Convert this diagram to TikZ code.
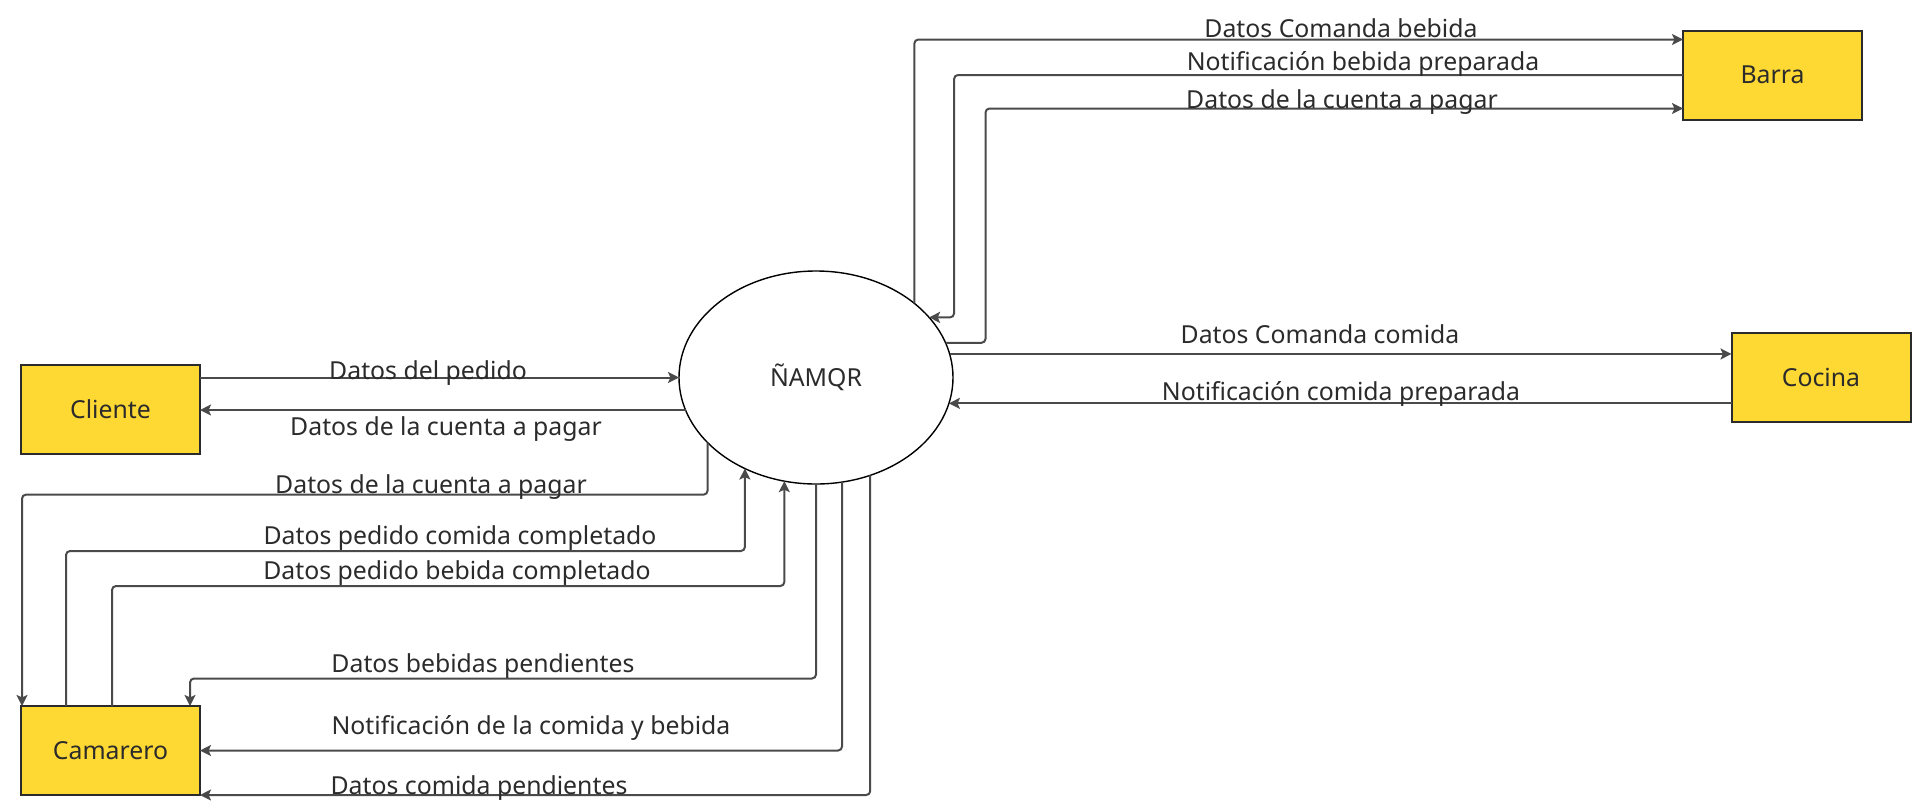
\documentclass[tikz,border=0pt]{standalone}
\usepackage{fontspec}
\setmainfont{Noto Sans}
\usetikzlibrary{arrows.meta,shapes.geometric}
\definecolor{boxyellow}{HTML}{FFD933}
\definecolor{linegray}{HTML}{4A4A4A}
\definecolor{txtgray}{HTML}{2B2B2B}
\tikzset{
  entity/.style={draw=txtgray,line width=1pt,fill=boxyellow,
    minimum width=89.5pt,minimum height=44.5pt,inner sep=0pt,outer sep=0pt,
    font=\fontsize{12.4}{14}\selectfont,text=txtgray},
  process/.style={ellipse,draw=black,line width=0.7pt,fill=white,
    minimum width=137pt,minimum height=106.5pt,inner sep=0pt,outer sep=0pt,
    font=\fontsize{12.4}{14}\selectfont,text=txtgray},
  flow/.style={draw=linegray,line width=1pt,rounded corners=2pt,
    -{Stealth[length=5.5pt,width=5.5pt,inset=1.2pt]}},
  lbl/.style={font=\fontsize{12.4}{14}\selectfont,text=txtgray,inner sep=0pt}
}
\begin{document}
\begin{tikzpicture}[x=0.5pt,y=-0.5pt]
\useasboundingbox (0,0) rectangle (1927,810);
% external entities and process
\node[entity] (cli) at (110.5,409.5) {Cliente};
\node[entity] (cam) at (110.5,750.5) {Camarero};
\node[entity] (barra) at (1772.5,75) {Barra};
\node[entity] (cocina) at (1821,377.5) {Cocina};
\node[process] (nam) at (816,377.5) {ÑAMQR};

% Cliente
\draw[flow] (cli.east |- nam.west) -- (nam.west);
\draw[flow] (nam.194) -- (nam.194 -| cli.east);

% Camarero
\draw[flow] (nam.211.3) -- ++(0,52) -| ([xshift=0.5pt]cam.north west);
\draw[flow] ([xshift=22.5pt]cam.north west) -- ++(0,-155) -| (nam.232.6);
\draw[flow] ([xshift=45.5pt]cam.north west) -- ++(0,-120) -| (nam.253.9);
\draw[flow] (nam.south) -- ++(0,194.5) -| ([xshift=-5pt]cam.north east);
\draw[flow] (nam.-76) |- (cam.east);
\draw[flow] (nam.-61.6) |- (cam.south east);

% Barra
\draw[flow] (nam.37.8) |- ([yshift=-4.5pt]barra.north west);
\draw[flow] (barra.west) -| ([xshift=12.5pt]nam.28.8) -- (nam.28.8);
\draw[flow] (nam.15.8) -- ++(40,0) |- ([yshift=5.5pt]barra.south west);

% Cocina
\draw[flow] (nam.10.85) -- (nam.10.85 -| cocina.west);
\draw[flow] (nam.-11.3 -| cocina.west) -- (nam.-11.3);

% labels
\node[lbl] (l1) at (428,373) {Datos del pedido};
\node[lbl] (l2) at (446,429) {Datos de la cuenta a pagar};
\node[lbl] (l3) at (431,487) {Datos de la cuenta a pagar};
\node[lbl] (l4) at (460,538) {Datos pedido comida completado};
\node[lbl] (l5) at (457,573) {Datos pedido bebida completado};
\node[lbl] (l6) at (483,666) {Datos bebidas pendientes};
\node[lbl] (l7) at (531,728) {Notificación de la comida y bebida};
\node[lbl] (l8) at (479,788) {Datos comida pendientes};
\node[lbl] (l9) at (1341,28) {Datos Comanda bebida};
\node[lbl] (l10) at (1363,64) {Notificación bebida preparada};
\node[lbl] (l11) at (1342,102) {Datos de la cuenta a pagar};
\node[lbl] (l12) at (1320,334) {Datos Comanda comida};
\node[lbl] (l13) at (1341,394) {Notificación comida preparada};
\end{tikzpicture}
\end{document}
